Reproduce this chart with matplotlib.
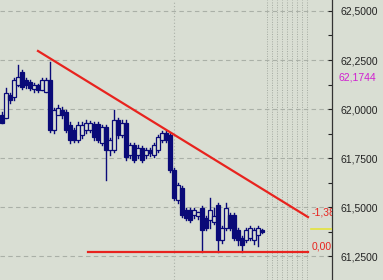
import numpy as np
import matplotlib
matplotlib.use("Agg")
import matplotlib.pyplot as plt
from matplotlib.patches import Rectangle

plt.rcParams['font.family'] = ['Liberation Sans', 'DejaVu Sans']

# candle data (open, high, low, close)
opens = [61.970, 61.954, 62.072, 62.061, 62.123, 62.189, 62.148, 62.138, 62.102, 62.123,
         62.097, 62.087, 62.148, 61.893, 61.970, 61.995, 61.985, 61.919, 61.893, 61.842,
         61.868, 61.893, 61.893, 61.924, 61.924, 61.827, 61.908, 61.791, 61.791, 61.944,
         61.868, 61.929, 61.766, 61.817, 61.766, 61.801, 61.766, 61.791, 61.766, 61.791,
         61.842, 61.878, 61.868, 61.689, 61.536, 61.597, 61.485, 61.485, 61.460, 61.454,
         61.495, 61.444, 61.434, 61.424, 61.511, 61.332, 61.393, 61.460, 61.460, 61.383,
         61.342, 61.332, 61.342, 61.332, 61.358, 61.383]
highs = [61.985, 62.107, 62.082, 62.158, 62.224, 62.199, 62.158, 62.148, 62.133, 62.128,
         62.158, 62.158, 62.240, 62.005, 62.021, 62.010, 61.995, 61.934, 61.903, 61.934,
         61.934, 61.944, 61.939, 61.934, 61.934, 61.919, 61.919, 61.852, 61.995, 61.954,
         61.944, 61.944, 61.827, 61.827, 61.817, 61.811, 61.801, 61.801, 61.827, 61.868,
         61.888, 61.888, 61.878, 61.699, 61.623, 61.607, 61.495, 61.495, 61.495, 61.475,
         61.505, 61.454, 61.546, 61.495, 61.521, 61.403, 61.521, 61.470, 61.470, 61.393,
         61.352, 61.393, 61.403, 61.393, 61.403, 61.388]
lows = [61.927, 61.954, 62.031, 62.046, 62.117, 62.102, 62.107, 62.097, 62.087, 62.087,
        62.097, 62.087, 61.883, 61.878, 61.980, 61.954, 61.883, 61.827, 61.832, 61.832,
        61.852, 61.878, 61.883, 61.842, 61.832, 61.817, 61.638, 61.766, 61.781, 61.852,
        61.857, 61.740, 61.750, 61.730, 61.750, 61.730, 61.750, 61.760, 61.755, 61.781,
        61.832, 61.832, 61.679, 61.536, 61.521, 61.449, 61.434, 61.424, 61.444, 61.439,
        61.271, 61.383, 61.393, 61.414, 61.271, 61.317, 61.383, 61.383, 61.332, 61.307,
        61.271, 61.322, 61.332, 61.312, 61.302, 61.368]
closes = [61.927, 62.082, 62.046, 62.148, 62.163, 62.112, 62.123, 62.107, 62.123, 62.097,
          62.148, 62.148, 61.893, 61.995, 62.005, 61.970, 61.893, 61.842, 61.842, 61.919,
          61.919, 61.929, 61.929, 61.857, 61.842, 61.908, 61.791, 61.842, 61.944, 61.868,
          61.929, 61.755, 61.817, 61.740, 61.801, 61.740, 61.791, 61.776, 61.817, 61.857,
          61.878, 61.842, 61.689, 61.546, 61.613, 61.460, 61.444, 61.434, 61.485, 61.475,
          61.383, 61.393, 61.485, 61.454, 61.332, 61.393, 61.495, 61.393, 61.342, 61.332,
          61.307, 61.383, 61.393, 61.383, 61.393, 61.373]

# trend line and support line (index, price)
trend_x = [9.0, 76.5]
trend_y = [62.296, 61.449]
support_x = [21.5, 76.5]
support_y = [61.271, 61.271]
bid_price = 61.388
marker_price = 62.1744
marker_label = "62,1744"
label_top = "-1,38"
label_bottom = "0,00"

bg = '#d9ded3'
navy = '#0a0a78'
red = '#e8231e'

fig = plt.figure(figsize=(3.83, 2.80), dpi=100, facecolor=bg)
ax = fig.add_axes([0, 0, 332 / 383, 1])
ax.set_facecolor(bg)

# grid
for p in np.arange(61.25, 62.6, 0.25):
    ax.axhline(p, color='#aab0a7', lw=0.8, ls=(0, (4, 3)), zorder=0)
ax.axvline(43, color='#aab0a7', lw=0.8, ls=(0, (1, 2)), zorder=0)
for xv in np.arange(66.25, 77.1, 1.25):
    ax.axvline(xv, color='#a4aaa1', lw=0.7, ls=(0, (1, 1.5)), zorder=0)

# candles
w = 0.8
for i, (o, h, l, c) in enumerate(zip(opens, highs, lows, closes)):
    ax.plot([i, i], [l, h], color=navy, lw=1.0, zorder=2)
    bottom = min(o, c)
    height = max(abs(c - o), 0.003)
    fc = navy if c < o else bg
    ax.add_patch(Rectangle((i - w / 2, bottom), w, height, facecolor=fc,
                           edgecolor=navy, lw=0.9, zorder=3))

ax.plot(trend_x, trend_y, color=red, lw=1.6, zorder=4)
ax.plot(support_x, support_y, color=red, lw=1.6, zorder=4)
ax.plot([77.2, 82.5], [bid_price, bid_price], color='#e4e43a', lw=1.2, zorder=4)

ax.text(77.4, 61.47, label_top, color=red, fontsize=7.5, va='center', ha='left', clip_on=True)
ax.text(77.4, 61.30, label_bottom, color=red, fontsize=7.5, va='center', ha='left', clip_on=True)

ax.set_xlim(-0.5, 82.5)
ax.set_ylim(61.128, 62.556)

ax.yaxis.tick_right()
ax.set_yticks(np.arange(61.25, 62.6, 0.25))
ax.set_yticklabels([f"{p:.4f}".replace('.', ',') for p in np.arange(61.25, 62.6, 0.25)])
ax.set_yticks(np.arange(61.25, 62.6, 0.125), minor=True)
ax.tick_params(axis='y', which='both', direction='in', length=3, width=0.8,
               colors='#222222', labelsize=7.5, pad=6)
ax.set_xticks([])
for s in ['top', 'left', 'bottom']:
    ax.spines[s].set_visible(False)
ax.spines['right'].set_color('#333333')
ax.spines['right'].set_linewidth(0.9)

ax.text(1.02, marker_price - 0.015, marker_label, transform=ax.get_yaxis_transform(),
        color='#d020d0', fontsize=7.5, va='center', ha='left', clip_on=False)

fig.savefig('out.png', dpi=100, facecolor=bg)
